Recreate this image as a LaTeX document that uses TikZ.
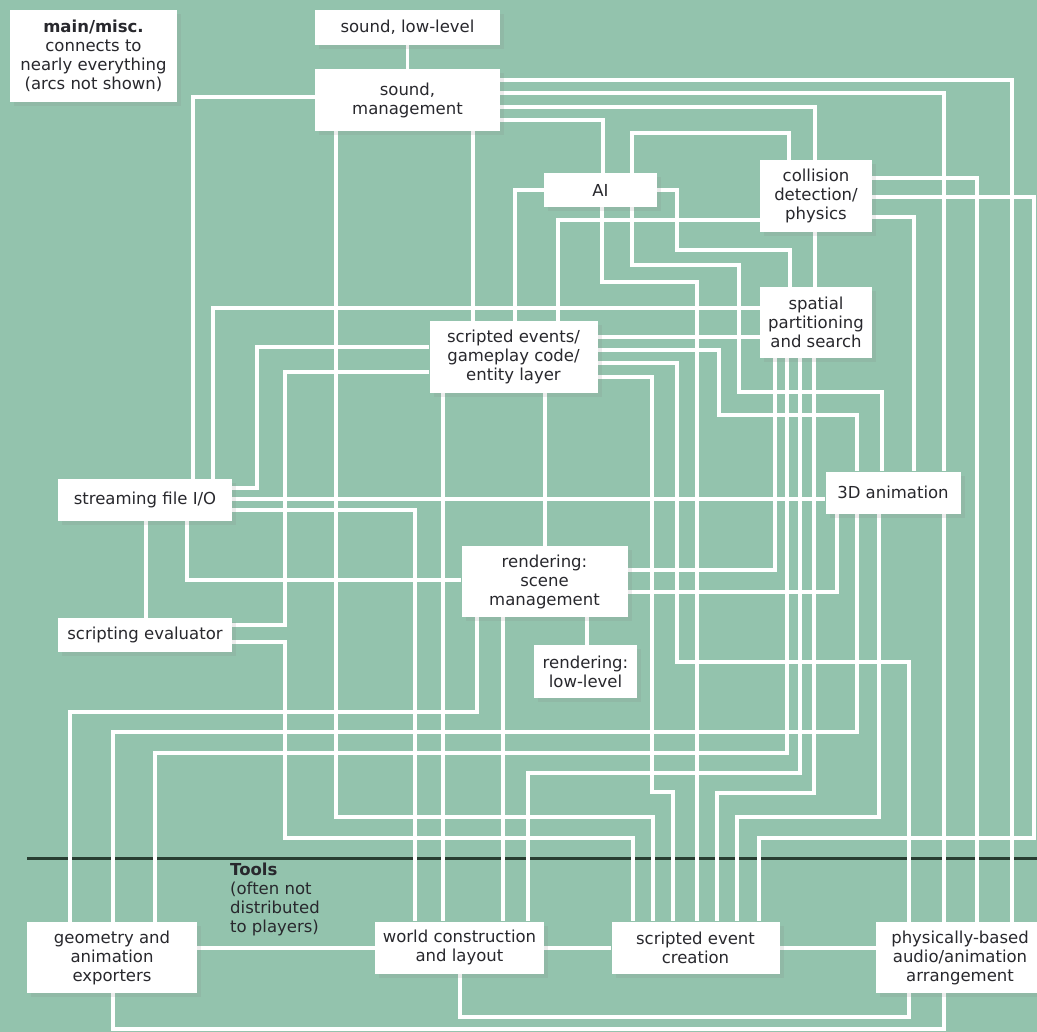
\documentclass[tikz,border=0pt]{standalone}
\usepackage{fontspec}
\setmainfont{DejaVu Sans}
\usetikzlibrary{shadows}
\definecolor{bgc}{RGB}{147,195,173}
\definecolor{rulec}{RGB}{40,62,50}
\definecolor{txt}{RGB}{40,40,45}
\pgfdeclarelayer{bg}\pgfdeclarelayer{wires}\pgfsetlayers{bg,wires,main}
\begin{document}
\begin{tikzpicture}[x=1pt,y=-1pt,
  cbox/.style={fill=white, inner sep=0pt, align=center, text=txt,
    font=\fontsize{16.5}{19}\selectfont,
    drop shadow={shadow xshift=4pt, shadow yshift=-4pt, opacity=0.15}},
  sz/.style 2 args={minimum width=#1pt, minimum height=#2pt},
  wire/.style={draw=white, line width=3.2pt}]
\useasboundingbox (0,0) rectangle (1037,1032);
\begin{pgfonlayer}{bg}
\fill[bgc] (0,0) rectangle (1037,1032);
\draw[line width=3pt, rulec] (27,858) -- (1037,858);
\end{pgfonlayer}

\node[cbox, sz={167}{92}] (mm) at (93.5,56) {\textbf{main/misc.}\\connects to\\nearly everything\\(arcs not shown)};
\node[cbox, sz={185}{35}] (sll) at (407.5,27.5) {sound, low-level};
\node[cbox, sz={185}{62}] (sm) at (407.5,100) {sound,\\management};
\node[cbox, sz={113}{34}] (ai) at (600.5,190) {AI};
\node[cbox, sz={112}{72}] (col) at (816,196) {collision\\detection/\\physics};
\node[cbox, sz={112}{71}] (sp) at (816,322.5) {spatial\\partitioning\\and search};
\node[cbox, sz={168}{72}] (se) at (513.5,357) {scripted events/\\gameplay code/\\entity layer};
\node[cbox, sz={135}{42}] (anim) at (893,492.5) {3D animation};
\node[cbox, sz={174}{42}] (sf) at (145,500) {streaming file I/O};
\node[cbox, sz={166}{71}] (rs) at (544.5,581.5) {rendering:\\scene\\management};
\node[cbox, sz={103}{53}] (rl) at (585.5,671.5) {rendering:\\low-level};
\node[cbox, sz={174}{34}] (sev) at (145,635) {scripting evaluator};
\node[cbox, sz={170}{71}] (ge) at (112,957.5) {geometry and\\animation\\exporters};
\node[cbox, sz={169}{52}] (wc) at (459.5,947.5) {world construction\\and layout};
\node[cbox, sz={168}{52}] (sec) at (695.5,947.5) {scripted event\\creation};
\node[cbox, sz={168}{71}] (pb) at (960,957.5) {physically-based\\audio/animation\\arrangement};
\node[anchor=north west, inner sep=0pt, align=left, text=txt,
  font=\fontsize{16.5}{19}\selectfont] (tools) at (230,863)
  {\textbf{Tools}\\(often not\\distributed\\to players)};

\begin{pgfonlayer}{wires}
\draw[wire] (sll.south) -- (sm.north);
\draw[wire] (sm.west |- 0,97) -| (193,0 |- sf.north);
\draw[wire] (sm.east |- 0,80) -| (1012,0 |- pb.north);
\draw[wire] (sm.east |- 0,93) -| (944,0 |- anim.north);
\draw[wire] (sm.east |- 0,107) -| (815,0 |- col.north);
\draw[wire] (sm.east |- 0,120) -| (603,0 |- ai.north);
\draw[wire] (473,0 |- sm.south) -- (473,0 |- se.north);
\draw[wire] (336,0 |- sm.south) |- (653,817) -- (653,0 |- sec.north);
\draw[wire] (632,0 |- ai.north) |- (789,133) -- (789,0 |- col.north);
\draw[wire] (ai.west) -| (515,0 |- se.north);
\draw[wire] (ai.east) -| (677,250) -| (790,0 |- sp.north);
\draw[wire] (602,0 |- ai.south) |- (697,282) -- (697,0 |- sec.north);
\draw[wire] (632,0 |- ai.south) |- (739,265) |- (882,392) -- (882,0 |- anim.north);
\draw[wire] (col.west |- 0,220) -| (558,0 |- se.north);
\draw[wire] (815,0 |- col.south) -- (815,0 |- sp.north);
\draw[wire] (col.east |- 0,178) -| (977,0 |- pb.north);
\draw[wire] (col.east |- 0,197) -| (1034,838) -| (759,0 |- sec.north);
\draw[wire] (col.east |- 0,217) -| (914,0 |- anim.north);
\draw[wire] (213,0 |- sf.north) |- (sp.west |- 0,308);
\draw[wire] (sf.east |- 0,488) -| (257,347) -- (se.west |- 0,347);
\draw[wire] (sf.east |- 0,499) -- (anim.west |- 0,499);
\draw[wire] (sf.east |- 0,510) -| (415,0 |- wc.north);
\draw[wire] (146,0 |- sf.south) -- (146,0 |- sev.north);
\draw[wire] (187,0 |- sf.south) |- (rs.west |- 0,580);
\draw[wire] (se.west |- 0,372) -| (285,625) -- (sev.east |- 0,625);
\draw[wire] (sev.east |- 0,642) -| (285,838) -| (633,0 |- sec.north);
\draw[wire] (se.east |- 0,337) -- (sp.west |- 0,337);
\draw[wire] (se.east |- 0,350) -| (719,415) -| (857,0 |- anim.north);
\draw[wire] (se.east |- 0,363) -| (677,662) -| (909,0 |- pb.north);
\draw[wire] (se.east |- 0,377) -| (652,792) -| (673,0 |- sec.north);
\draw[wire] (443,0 |- se.south) -- (443,0 |- wc.north);
\draw[wire] (545,0 |- se.south) -- (545,0 |- rs.north);
\draw[wire] (587,0 |- rs.south) -- (587,0 |- rl.north);
\draw[wire] (rs.east |- 0,570) -| (775,0 |- sp.south);
\draw[wire] (rs.east |- 0,592) -| (837,0 |- anim.south);
\draw[wire] (477,0 |- rs.south) |- (70,712) -- (70,0 |- ge.north);
\draw[wire] (503,0 |- rs.south) -- (503,0 |- wc.north);
\draw[wire] (113,0 |- ge.north) |- (857,732) -- (857,0 |- anim.south);
\draw[wire] (155,0 |- ge.north) |- (787,753) -- (787,0 |- sp.south);
\draw[wire] (528,0 |- wc.north) |- (800,773) -- (800,0 |- sp.south);
\draw[wire] (814,0 |- sp.south) |- (717,793) -- (717,0 |- sec.north);
\draw[wire] (879,0 |- anim.south) |- (737,817) -- (737,0 |- sec.north);
\draw[wire] (944,0 |- anim.south) -- (944,0 |- pb.north);
\draw[wire] (ge.east |- 0,948) -- (wc.west |- 0,948);
\draw[wire] (wc.east |- 0,948) -- (sec.west |- 0,948);
\draw[wire] (sec.east |- 0,948) -- (pb.west |- 0,948);
\draw[wire] (460,0 |- wc.south) |- (909,1017) -- (909,0 |- pb.south);
\draw[wire] (113,0 |- ge.south) |- (944,1029) -- (944,0 |- pb.south);
\end{pgfonlayer}
\end{tikzpicture}
\end{document}
